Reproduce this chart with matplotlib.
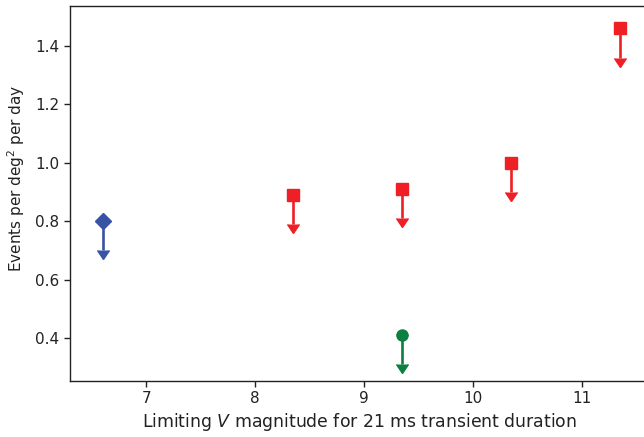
import numpy as np
import matplotlib
matplotlib.use("Agg")
import matplotlib.pyplot as plt

# upper limits, grouped by survey
blue_x = [6.6]
blue_y = [0.80]
red_x = [8.35, 9.35, 10.35, 11.35]
red_y = [0.89, 0.91, 1.00, 1.46]
green_x = [9.35]
green_y = [0.41]
arrow_len = 0.1

fig = plt.figure(figsize=(6.44, 4.37), dpi=100)
ax = fig.add_axes([70 / 644, 56 / 437, 578 / 644, 375 / 437])

series = [
    (blue_x, blue_y, "D", "#3953a4"),
    (red_x, red_y, "s", "#ee2025"),
    (green_x, green_y, "o", "#0b8040"),
]
for xs, ys, mk, col in series:
    ax.errorbar(xs, ys, yerr=arrow_len, uplims=True, fmt=mk, color=col,
                ms=8, elinewidth=1.9, capsize=4.5)

ax.set_xlim(6.3, 11.61)
ax.set_ylim(0.253, 1.537)
ax.set_xticks([7, 8, 9, 10, 11])
ax.set_yticks([0.4, 0.6, 0.8, 1.0, 1.2, 1.4])
ax.tick_params(labelsize=11, width=1.0, length=4, colors="#222222")
for s in ax.spines.values():
    s.set_linewidth(1.0)
    s.set_color("#222222")
ax.set_xlabel("Limiting $V$ magnitude for 21 ms transient duration", fontsize=12.4,
              color="#222222", labelpad=3)
ax.set_ylabel("Events per deg$^2$ per day", fontsize=11, color="#222222")
ax.yaxis.set_label_coords(-0.075, 0.54)

fig.savefig("out.png", dpi=100)
